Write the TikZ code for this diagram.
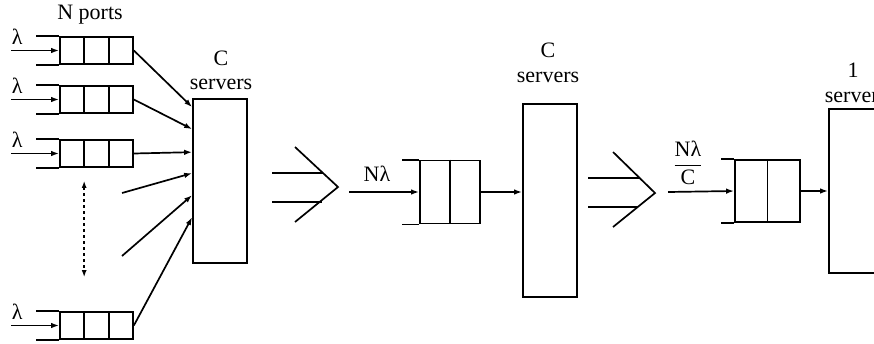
\documentclass[tikz,border=0pt]{standalone}
\usepackage{amsmath}
\usepackage{fontspec}
\setmainfont{Liberation Serif}
\usetikzlibrary{arrows.meta,positioning,calc}

\tikzset{
  queue/.style={draw, minimum height=27pt, minimum width=73pt, inner sep=0pt},
  server/.style={draw, minimum width=54pt, inner sep=0pt},
  flow/.style={-{Latex[length=8pt,width=5.5pt]}},
  lbl/.style={font=\fontsize{22}{24}\selectfont, inner sep=0pt},
}

\begin{document}
\begin{tikzpicture}[x=1pt,y=-1pt,line width=1.7pt]
\useasboundingbox (0,0) rectangle (874,343);
\clip (0,0) rectangle (874,343);
% N input ports
\node[queue] (q1) at (96.5,50.5) {};
\node[queue] (q2) at (96.5,99.5) {};
\node[queue] (q3) at (96.5,153.5) {};
\node[queue] (q4) at (96.5,325.5) {};
\foreach \q in {q1,q2,q3,q4} {
  \draw ($(\q.north west)!1/3!(\q.north east)$) -- ($(\q.south west)!1/3!(\q.south east)$);
  \draw ($(\q.north west)!2/3!(\q.north east)$) -- ($(\q.south west)!2/3!(\q.south east)$);
  \draw (\q.north west) -- ++(-23,0);
  \draw (\q.south west) -- ++(-23,0);
  \coordinate (src-\q) at ($(\q.west)+(-48,0)$);
  \draw[flow] (src-\q) -- (\q.west);
  \node[lbl] (lam-\q) at ($(\q.north west)+(-42,1)$) {λ};
}
\node[lbl] (ports) at (90,15) {N ports};
\draw[dashed,<->,>={Latex[length=7pt,width=5pt]}] ($(q3.south west)+(25,13)$) -- ($(q4.north west)+(25,-34)$);

% first stage: C servers
\node[server, minimum height=164pt] (s1) at (220,181) {};
\node[lbl] (s1c) at (221,58) {C};
\node[lbl] (s1t) at (221,84) {servers};
\coordinate (f1) at (122,193);
\coordinate (f2) at (122,256);
\foreach \src/\dy in {q1.east/9, q2.east/31, q3.east/54, f1/75, f2/97, q4.east/119}
  \draw[flow] (\src) -- ($(s1.north west)+(0,\dy)$);

% aggregate flow
\draw (272,173) -- (323,173);
\draw (272,202) -- (322,202);
\draw (295,147) -- (338,187) -- (295,222);

% second stage
\coordinate (n1) at (349,192);
\node[lbl] (lamN) at (377,174) {Nλ};
\node[queue, minimum width=60pt, minimum height=63pt] (qa) at (450,192) {};
\draw (qa.north) -- (qa.south);
\draw (qa.north west) -- ++(-17,0);
\draw (qa.south west) -- ++(-17,0);
\draw[flow] (n1) -- (qa.west);
\node[server, minimum height=193pt] (s2) at (550,200.5) {};
\node[lbl] (s2c) at (548,50) {C};
\node[lbl] (s2t) at (548,77) {servers};
\draw[flow] (qa.east) -- (qa.east -| s2.west);

% per-server flow
\draw (588,178) -- (640,178);
\draw (588,207) -- (638,207);
\draw (613,152) -- (655,193) -- (613,227);

% third stage
\coordinate (n2) at (668,192);
\node[lbl] (lamC) at (688,163) {$\genfrac{}{}{0.4pt}{0}{\text{Nλ}}{\text{C}}$};
\node[queue, minimum width=65pt, minimum height=62pt] (qb) at (767.5,191) {};
\draw (qb.north) -- (qb.south);
\draw (qb.north west) -- ++(-13,0);
\draw (qb.south west) -- ++(-13,0);
\draw[flow] (n2) -- (qb.west);
\node[server, minimum height=164pt] (s3) at (856,191) {};
\node[lbl] (s3c) at (853,70) {1};
\node[lbl] (s3t) at (856,97) {servers};
\draw[flow] (qb.east) -- (qb.east -| s3.west);
\end{tikzpicture}
\end{document}
